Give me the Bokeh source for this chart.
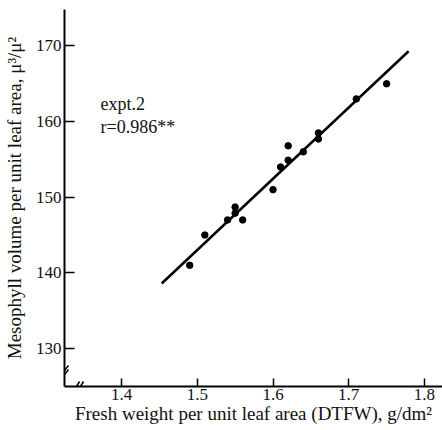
import math
from bokeh.plotting import figure
from bokeh.models import Range1d, FixedTicker, Label
from bokeh.embed import file_html
from bokeh.resources import INLINE

# data
fresh_weight = [1.49, 1.51, 1.54, 1.55, 1.55, 1.56, 1.60, 1.61, 1.62, 1.62, 1.64, 1.66, 1.66, 1.71, 1.75]
mesophyll_vol = [141.0, 145.0, 147.0, 148.7, 147.9, 147.0, 151.0, 154.0, 156.8, 154.9, 156.0, 158.5, 157.7, 163.0, 165.0]
fit_x = [1.453, 1.779]
fit_y = [138.6, 169.3]
x_ticks = [1.4, 1.5, 1.6, 1.7, 1.8]
y_ticks = [130, 140, 150, 160, 170]

FONT = "Liberation Serif"
X0, X1 = 1.3247, 1.8238
Y0, Y1 = 124.98, 174.82

p = figure(width=442, height=430, output_backend="svg", toolbar_location=None,
           x_range=Range1d(X0, X1), y_range=Range1d(Y0, Y1),
           min_border_left=64, min_border_right=0, min_border_top=9, min_border_bottom=44)
p.outline_line_color = None
p.grid.visible = False
p.background_fill_color = "white"
p.border_fill_color = "white"

for ax in (p.xaxis[0], p.yaxis[0]):
    ax.axis_line_width = 2
    ax.axis_line_color = "black"
    ax.major_tick_line_width = 1.5
    ax.major_tick_out = 0
    ax.minor_tick_out = 0
    ax.minor_tick_in = 0
    ax.minor_tick_line_color = None
    ax.major_label_text_font = FONT
    ax.major_label_text_font_size = "17px"
    ax.major_label_text_color = "#111111"
    ax.axis_label_text_font = FONT
    ax.axis_label_text_font_style = "normal"
    ax.axis_label_text_font_size = "19px"
    ax.axis_label_text_color = "#111111"

p.xaxis.ticker = FixedTicker(ticks=x_ticks)
p.yaxis.ticker = FixedTicker(ticks=y_ticks)
p.xaxis.major_tick_in = 8
p.yaxis.major_tick_in = 10
p.xaxis.major_label_standoff = 2
p.yaxis.major_label_standoff = 3

p.xaxis.axis_label = "Fresh weight per unit leaf area (DTFW), g/dm²"
p.xaxis.axis_label_standoff = 0
p.yaxis.axis_label = "Mesophyll volume per unit leaf area, μ³/μ²"
p.yaxis.axis_label_standoff = 8

# regression line and points
p.line(fit_x, fit_y, line_width=2.5, line_color="black")
p.scatter(fresh_weight, mesophyll_vol, size=6.5, color="black")

# annotation text
p.add_layout(Label(x=1.3723, y=162.34, text="expt.2", text_font=FONT, text_font_size="18px",
                   text_baseline="alphabetic", text_color="#111111"))
p.add_layout(Label(x=1.3723, y=159.3, text="r=0.986**", text_font=FONT, text_font_size="18px",
                   text_baseline="alphabetic", text_color="#111111"))

# axis break marks (decoration)
pxx = (X1 - X0) / 378.0
pxy = (Y1 - Y0) / 377.0
yb = Y0 + 12 * pxy
p.segment(x0=[X0, X0], y0=[yb, yb + 4 * pxy], x1=[X0 + 4 * pxx, X0 + 4 * pxx],
          y1=[yb + 5 * pxy, yb + 9 * pxy], line_color="black", line_width=1.5)
xb = X0 + 12 * pxx
p.segment(x0=[xb, xb + 4 * pxx], y0=[Y0, Y0], x1=[xb + 3 * pxx, xb + 7 * pxx],
          y1=[Y0 + 5 * pxy, Y0 + 5 * pxy], line_color="black", line_width=1.5)

open("out.html", "w").write(file_html(p, INLINE))
